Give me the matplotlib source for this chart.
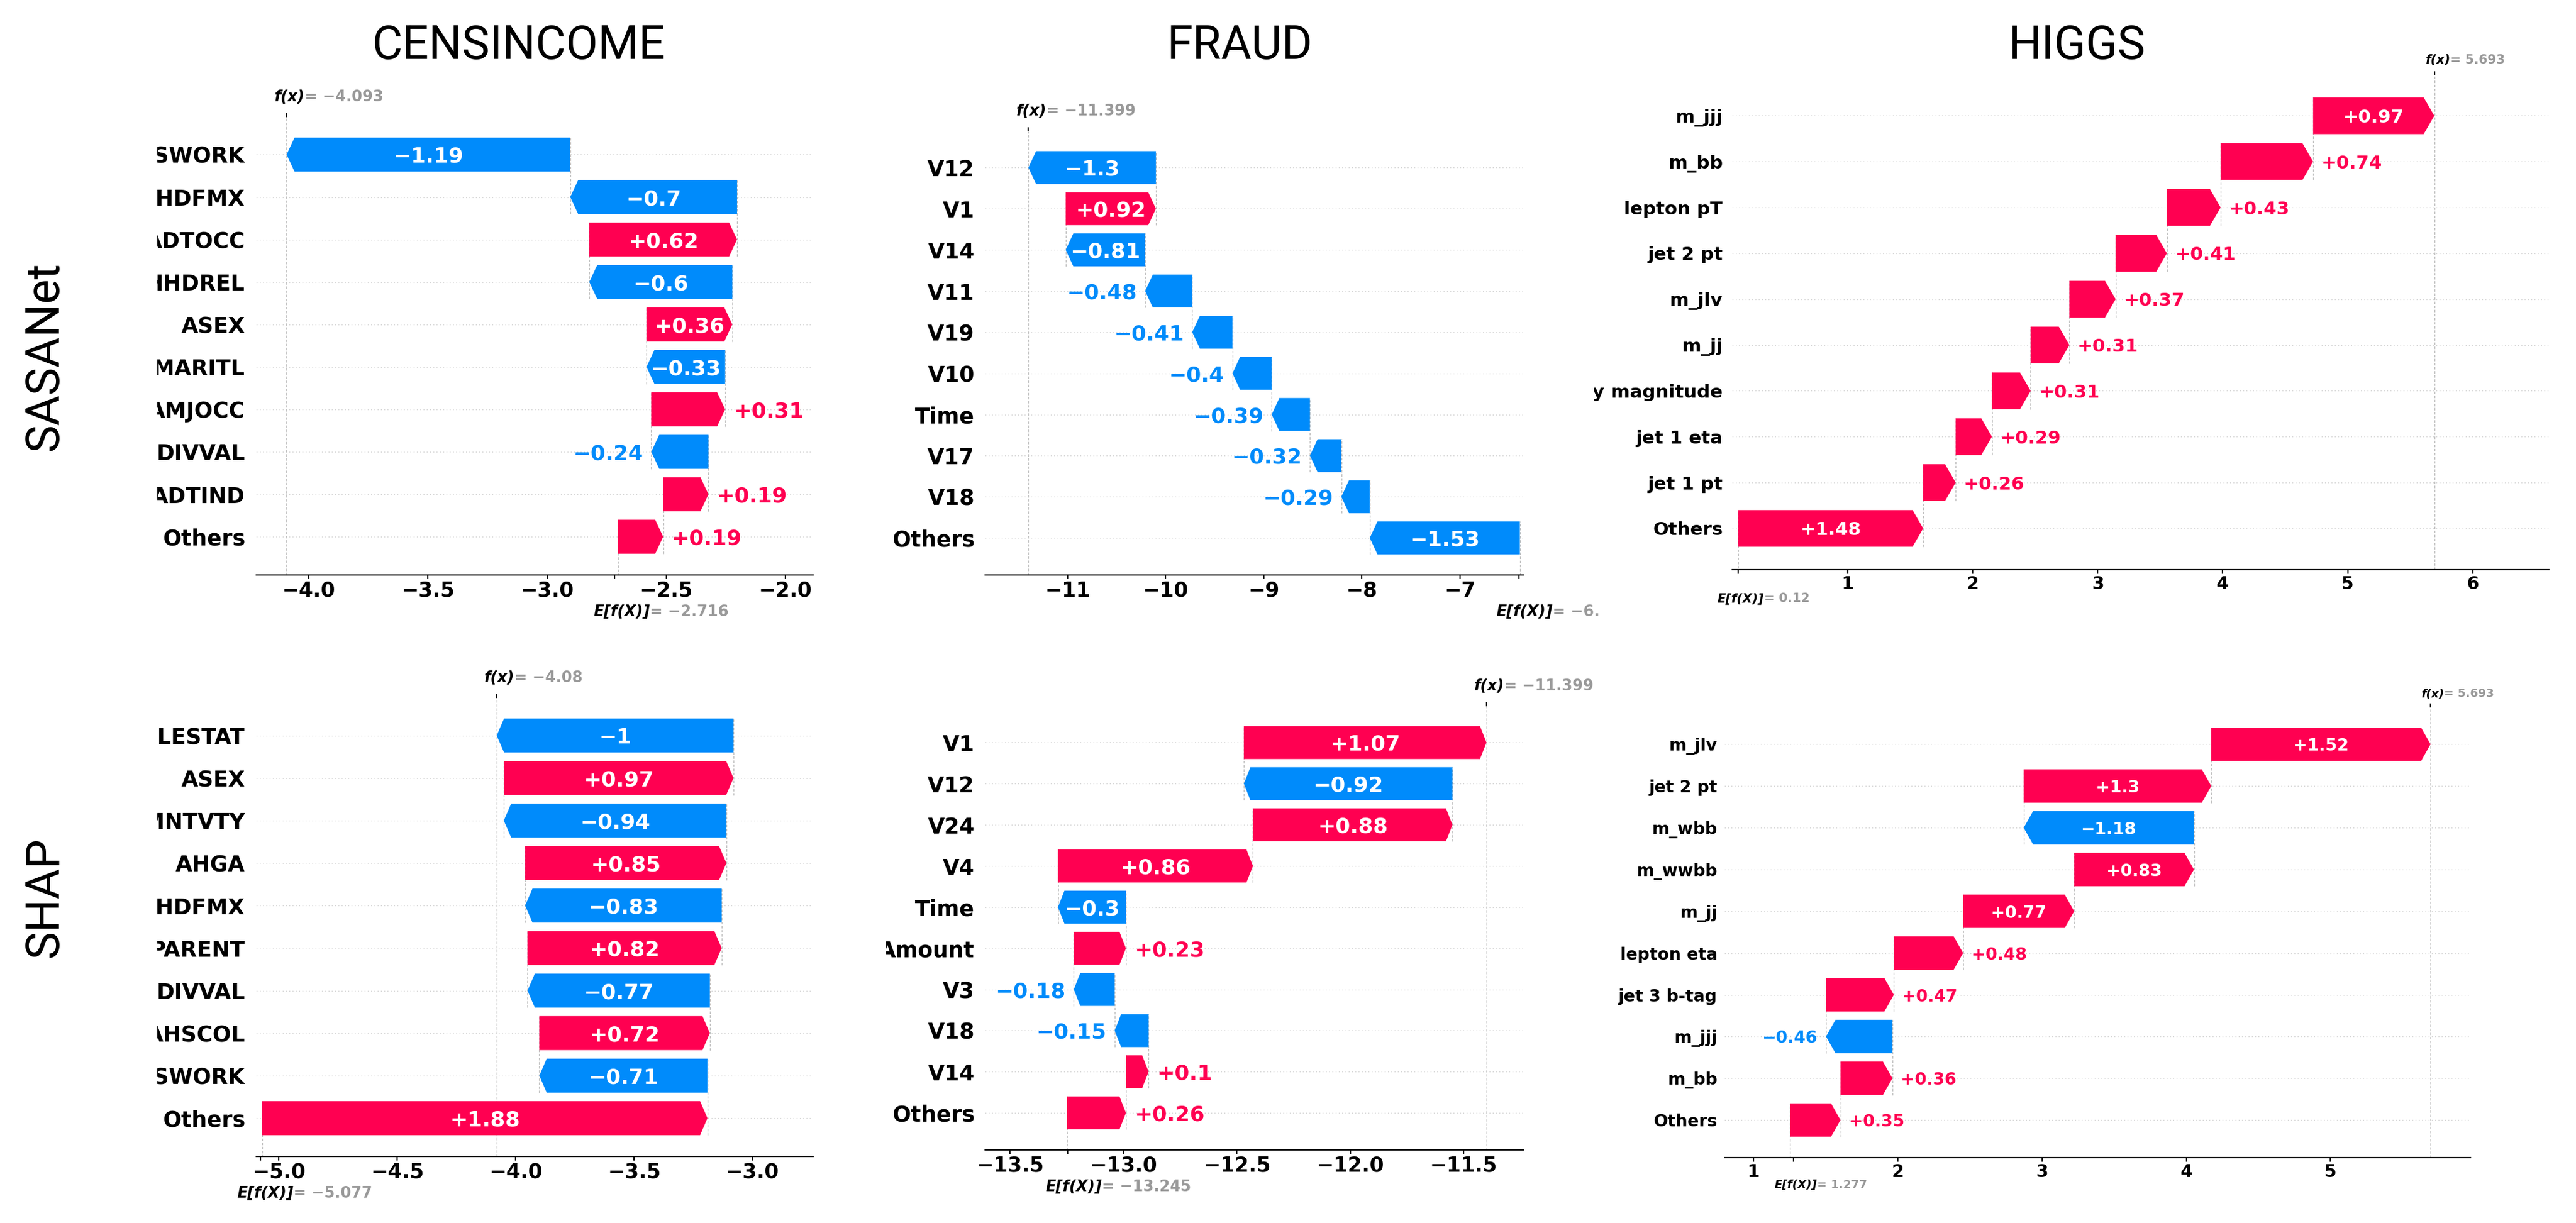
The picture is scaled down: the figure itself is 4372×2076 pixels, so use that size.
import matplotlib.pyplot as plt
from matplotlib.transforms import Bbox, TransformedBbox, blended_transform_factory, offset_copy

plt.rcParams['font.family'] = ['DejaVu Sans']
plt.rcParams['font.weight'] = 'bold'

W, H = 4372, 2076

# ---- data (top row: SASANet, bottom row: SHAP) ----
cens_sasa_features = ["WKSWORK", "HHDFMX", "ADTOCC", "HHDREL", "ASEX", "AMARITL",
                      "AMJOCC", "DIVVAL", "ADTIND", "Others"]
cens_sasa_values = [-1.19, -0.7, 0.62, -0.6, 0.36, -0.33, 0.31, -0.24, 0.19, 0.19]
cens_sasa_fx, cens_sasa_base = -4.093, -2.716

fraud_sasa_features = ["V12", "V1", "V14", "V11", "V19", "V10", "Time", "V17", "V18", "Others"]
fraud_sasa_values = [-1.3, 0.92, -0.81, -0.48, -0.41, -0.4, -0.39, -0.32, -0.29, -1.53]
fraud_sasa_fx, fraud_sasa_base = -11.399, -6.4

higgs_sasa_features = ["m_jjj", "m_bb", "lepton pT", "jet 2 pt", "m_jlv", "m_jj",
                       "missing energy magnitude", "jet 1 eta", "jet 1 pt", "Others"]
higgs_sasa_values = [0.97, 0.74, 0.43, 0.41, 0.37, 0.31, 0.31, 0.29, 0.26, 1.48]
higgs_sasa_fx, higgs_sasa_base = 5.693, 0.12

cens_shap_features = ["FILESTAT", "ASEX", "PEMNTVTY", "AHGA", "HHDFMX", "PARENT",
                      "DIVVAL", "AHSCOL", "WKSWORK", "Others"]
cens_shap_values = [-1.0, 0.97, -0.94, 0.85, -0.83, 0.82, -0.77, 0.72, -0.71, 1.88]
cens_shap_fx, cens_shap_base = -4.08, -5.077

fraud_shap_features = ["V1", "V12", "V24", "V4", "Time", "Amount", "V3", "V18", "V14", "Others"]
fraud_shap_values = [1.07, -0.92, 0.88, 0.86, -0.3, 0.23, -0.18, -0.15, 0.1, 0.26]
fraud_shap_fx, fraud_shap_base = -11.399, -13.245

higgs_shap_features = ["m_jlv", "jet 2 pt", "m_wbb", "m_wwbb", "m_jj", "lepton eta",
                       "jet 3 b-tag", "m_jjj", "m_bb", "Others"]
higgs_shap_values = [1.52, 1.3, -1.18, 0.83, 0.77, 0.48, 0.47, -0.46, 0.36, 0.35]
higgs_shap_fx, higgs_shap_base = 5.693, 1.277

datasets = ["CENSINCOME", "FRAUD", "HIGGS"]
methods = ["SASANet", "SHAP"]

red = "#ff0051"
blue = "#008bfb"

fig = plt.figure(figsize=(W / 100, H / 100), dpi=100)


def fmt(v, digits):
    s = f"{v:+.{digits}f}" if digits == 2 else f"{v:.{digits}f}"
    s = s.rstrip("0").rstrip(".")
    return s.replace("-", "\u2212")


def clip_x(artist, x0, x1):
    bb = TransformedBbox(Bbox.from_extents(x0 / W, 0, x1 / W, 1), fig.transFigure)
    artist.set_clip_on(True)
    artist.set_clip_path(None)
    artist.set_clip_box(bb)


def waterfall(box, xlim, fonts, head, gap, fx_off, e_off, clip, inside,
              features, values, fx, base, e_clip=None):
    l, r, t, b = box
    fs_y, fs_v, fs_x, fs_f = fonts
    ax = fig.add_axes([l / W, 1 - b / H, (r - l) / W, (b - t) / H])
    ax.set_xlim(xlim)
    ax.set_ylim(-0.9, 9.88)
    px_per_unit = (r - l) / (xlim[1] - xlim[0])
    hl = head / px_per_unit
    n = len(features)
    rows = list(range(n - 1, -1, -1))
    ylab_tr = offset_copy(blended_transform_factory(ax.transAxes, ax.transData),
                          fig=fig, x=-gap, units='dots')
    loc = fx
    for y, v, name in zip(rows, values, features):
        ax.axhline(y, color="#cccccc", lw=1, ls=(0, (1, 3)), zorder=-1)
        loc -= v
        col = red if v >= 0 else blue
        ax.arrow(loc, y, v, 0, width=0.8, head_width=0.8,
                 head_length=min(hl, abs(v)), length_includes_head=True,
                 color=col, lw=0, zorder=2)
        ax.plot([loc, loc], [y - 1.4, y + 0.4], color="#bbbbbb", ls=(0, (3, 2)),
                lw=1, zorder=0)
        label = fmt(v, 2)
        if abs(v) >= inside:
            ax.text(loc + v / 2, y, label, ha='center', va='center_baseline',
                    color='white', fontsize=fs_v, zorder=3)
        else:
            sign = 1 if v >= 0 else -1
            tr = offset_copy(ax.transData, fig=fig, x=14 * sign, units='dots')
            ax.text(loc + v, y, label, transform=tr, ha='left' if v >= 0 else 'right',
                    va='center_baseline', color=col, fontsize=fs_v, zorder=3)
        tl = ax.text(0, y, name, transform=ylab_tr, ha='right', va='center_baseline',
                     fontsize=fs_y, color='black')
        clip_x(tl, clip[0], clip[1])

    ax.axvline(fx, color="#bbbbbb", ls=(0, (3, 2)), lw=1, zorder=0)
    ax.set_yticks([])
    for side in ["top", "left", "right"]:
        ax.spines[side].set_visible(False)
    ax.spines["bottom"].set_linewidth(1.6)
    ax.tick_params(axis='x', length=5, width=1.6, labelsize=fs_x, pad=2)

    # E[f(X)] tick on the bottom and f(x) tick on the top
    ax2 = ax.twiny()
    ax2.set_xlim(xlim)
    ax2.xaxis.set_ticks_position('bottom')
    ax2.set_xticks([base])
    ax2.set_xticklabels([""])
    ax2.tick_params(axis='x', length=5, width=1.6)
    ax3 = ax.twiny()
    ax3.set_xlim(xlim)
    ax3.set_xticks([fx])
    ax3.set_xticklabels([""])
    ax3.tick_params(axis='x', length=5, width=1.6)
    for a in (ax2, ax3):
        for s in a.spines.values():
            s.set_visible(False)

    ftr = offset_copy(blended_transform_factory(ax.transData, ax.transAxes),
                      fig=fig, x=fx_off[0], y=fx_off[1], units='dots')
    t1 = ax.text(fx, 1, "f(x)", transform=ftr, ha='left', va='bottom',
                 fontsize=fs_f, style='italic', color='black')
    ax.annotate("= " + fmt(fx, 3), xy=(1, 0), xycoords=t1, ha='left', va='bottom',
                fontsize=fs_f, color='#999999')
    etr = offset_copy(blended_transform_factory(ax.transData, ax.transAxes),
                      fig=fig, x=e_off[0], y=e_off[1], units='dots')
    e1 = ax.text(base, 0, "E[f(X)]", transform=etr, ha='left', va='top',
                 fontsize=fs_f, style='italic', color='black')
    e2 = ax.annotate("= " + fmt(base, 3), xy=(1, 1), xycoords=e1, ha='left', va='top',
                     fontsize=fs_f, color='#999999')
    if e_clip is not None:
        clip_x(e1, 0, e_clip)
        clip_x(e2, 0, e_clip)
    return ax


big = (26.5, 26, 25, 18.5)

waterfall((435, 1380, 199, 976), (-4.22, -1.884), big, 13.5, 19, (-21, 21), (-36, -50),
          (267, 1440), 0.32, cens_sasa_features, cens_sasa_values, cens_sasa_fx, cens_sasa_base)
waterfall((1672, 2586, 223, 976), (-11.84, -6.35), big, 13, 18, (-21, 21), (-38, -50),
          (1440, 2714), 0.6, fraud_sasa_features, fraud_sasa_values, fraud_sasa_fx,
          fraud_sasa_base, e_clip=2714)
waterfall((2940, 4326, 128, 967), (0.075, 6.61), (22.5, 22.5, 21.5, 15.3), 18, 16,
          (-15, 16), (-35, -39), (2705, 4372), 0.8, higgs_sasa_features, higgs_sasa_values,
          higgs_sasa_fx, higgs_sasa_base)
waterfall((435, 1380, 1185, 1963), (-5.095, -2.744), big, 12.5, 19, (-21, 21), (-40, -50),
          (267, 1440), 0.5, cens_shap_features, cens_shap_values, cens_shap_fx, cens_shap_base)
waterfall((1672, 2586, 1199, 1952), (-13.61, -11.235), big, 11, 18, (-21, 21), (-38, -50),
          (1504, 2740), 0.28, fraud_shap_features, fraud_shap_values, fraud_shap_fx,
          fraud_shap_base)
waterfall((2927, 4193, 1201, 1965), (0.80, 5.97), (20.5, 20.5, 21.5, 14), 16, 12,
          (-16, 14), (-32, -37), (2705, 4372), 0.6, higgs_shap_features, higgs_shap_values,
          higgs_shap_fx, higgs_shap_base)

# column titles and row labels
title_font = dict(family=['Roboto', 'DejaVu Sans'], weight='normal', fontsize=57)
for name, xc in zip(datasets, [880, 2104, 3525]):
    fig.text(xc / W, 1 - 78 / H, name, ha='center', va='center', **title_font)
for name, yc in zip(methods, [604, 1523]):
    fig.text(76 / W, 1 - yc / H, name, ha='center', va='center', rotation=90, **title_font)

fig.savefig("out.png", dpi=100, facecolor='white')
